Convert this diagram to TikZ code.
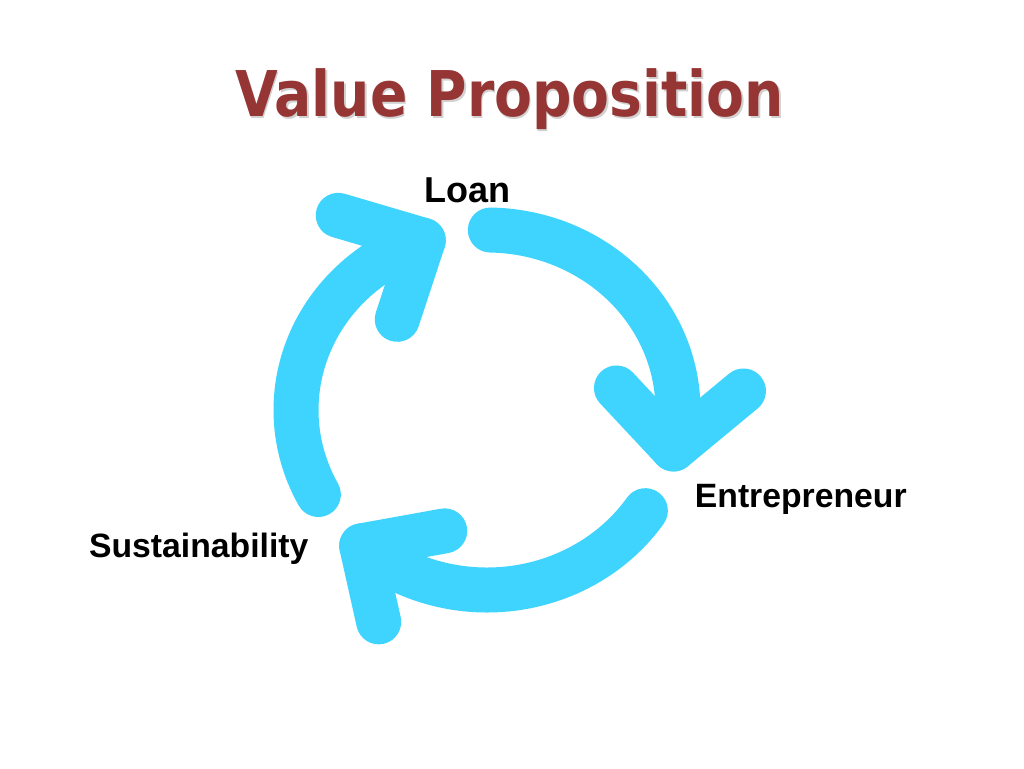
\documentclass[tikz,border=0pt]{standalone}
\usepackage{fontspec}
\setmainfont{Liberation Sans}
\newfontfamily\titlefont{DejaVu Sans}
\usetikzlibrary{calc}
\definecolor{cyc}{RGB}{63,212,254}
\definecolor{ttl}{RGB}{150,54,52}
\begin{document}
\begin{tikzpicture}[x=0.75pt,y=-0.75pt,
  cycarc/.style={draw=cyc,line width=33.75pt,line cap=round},
  chev/.style={draw=cyc,line width=33.75pt,line cap=round,line join=round},
  lbl/.style={font=\bfseries\fontsize{25.3}{30}\selectfont,anchor=base,inner sep=0pt},
  ttlstyle/.style={font=\titlefont\bfseries\fontsize{47.3}{52}\selectfont,anchor=base,inner sep=0pt}]
\useasboundingbox (0,0) rectangle (1024,768);
\fill[white] (0,0) rectangle (1024,768);
% title with soft shadow
\node[ttlstyle,text=black!18] (titleshadow) at (511,118.2) {\scalebox{0.875}[1]{Value Proposition}};
\node[ttlstyle,text=ttl] (title) at (509.5,116.7) {\scalebox{0.875}[1]{Value Proposition}};
% cycle centre
\coordinate (C) at (487,410);
% top-right arrow (Loan -> Entrepreneur)
\draw[cycarc] ($(C)+(271:191 and 180)$) arc[start angle=271,end angle=372.5,x radius=191,y radius=180] coordinate (tR);
\draw[chev] ($(tR)+(-57,-61)$) -- (tR) -- ($(tR)+(70,-58)$);
% bottom arrow (Entrepreneur -> Sustainability)
\draw[cycarc] ($(C)+(34:191 and 180)$) arc[start angle=34,end angle=131,x radius=191,y radius=180] coordinate (tB);
\draw[chev] ($(tB)+(83,-15)$) -- (tB) -- ($(tB)+(17,76)$);
% left arrow (Sustainability -> Loan)
\draw[cycarc] ($(C)+(152:191 and 180)$) arc[start angle=152,end angle=250.5,x radius=191,y radius=180] coordinate (tL);
\draw[chev] ($(tL)+(-85,-25)$) -- (tL) -- ($(tL)+(-26,79)$);
% labels
\node[lbl,font=\bfseries\fontsize{27}{32}\selectfont] (loan) at (467.5,202) {Loan};
\node[lbl] (entre) at (800.8,507) {Entrepreneur};
\node[lbl] (sust) at (198.7,557) {Sustainability};
\end{tikzpicture}
\end{document}
